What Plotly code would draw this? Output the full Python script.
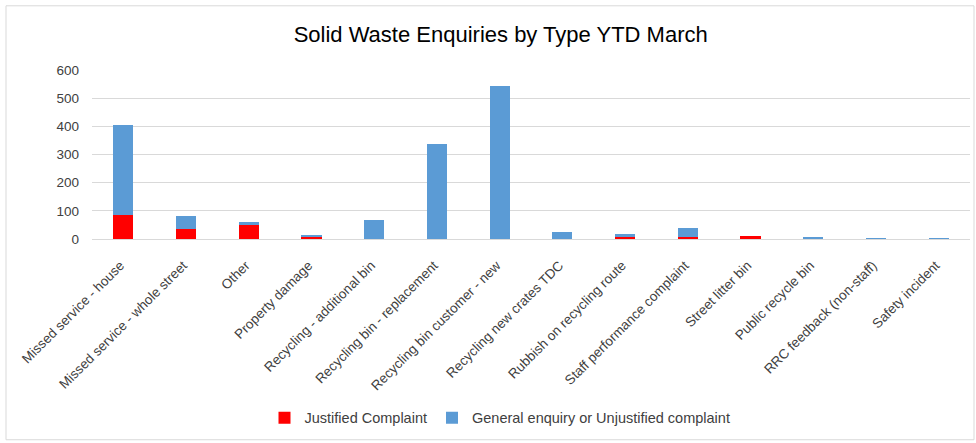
import plotly.graph_objects as go

categories = [
    "Missed service - house",
    "Missed service - whole street",
    "Other",
    "Property damage",
    "Recycling - additional bin",
    "Recycling bin - replacement",
    "Recycling bin customer - new",
    "Recycling new crates TDC",
    "Rubbish on recycling route",
    "Staff performance complaint",
    "Street litter bin",
    "Public recycle bin",
    "RRC feedback (non-staff)",
    "Safety incident",
]
justified = [86, 34, 50, 9, 0, 0, 0, 0, 8, 6, 10, 0, 0, 0]
general = [317, 48, 10, 5, 68, 336, 543, 26, 8, 32, 0, 4, 1, 1]

FONT = "Liberation Sans, Arial, sans-serif"

fig = go.Figure()
fig.add_trace(go.Bar(x=categories, y=justified, name="Justified Complaint",
                     marker=dict(color="#ff0000", line=dict(width=0))))
fig.add_trace(go.Bar(x=categories, y=general, name="General enquiry or Unjustified complaint",
                     marker=dict(color="#5b9bd5", line=dict(width=0))))

L, R, T, B = 92, 6, 69.5, 203.7
W, H = 976, 443
pw = W - L - R
ph = H - T - B

fig.update_layout(
    width=W, height=H,
    barmode="stack",
    bargap=0.68,
    plot_bgcolor="white",
    paper_bgcolor="white",
    margin=dict(l=L, r=R, t=T, b=B, autoexpand=False),
    font=dict(family=FONT, color="#404040", size=13),
    title=dict(text="Solid Waste Enquiries by Type YTD March", x=0.513, xanchor="center",
               y=1 - 34 / H, yanchor="middle",
               font=dict(size=22, color="#000000", family=FONT)),
    showlegend=True,
    legend=dict(orientation="h", x=(500 - L) / pw, xanchor="center", y=(H - B - 419) / ph,
                yanchor="middle", font=dict(size=14.5, color="#404040"),
                traceorder="normal", itemwidth=30),
    xaxis=dict(tickangle=-45, showgrid=False, showline=False, ticks="",
               tickfont=dict(size=13.5, color="#404040"), ticklabelstandoff=15,
               ticklabelshift=-3),
    yaxis=dict(range=[0, 600], dtick=100, showgrid=True, gridcolor="#d9d9d9", gridwidth=1,
               zeroline=True, zerolinecolor="#d9d9d9", zerolinewidth=1, showline=False,
               ticks="", tickfont=dict(size=13.5, color="#404040"), ticklabelstandoff=12),
)

# chart-area border
fig.add_shape(type="rect", xref="paper", yref="paper",
              x0=(6 - L) / pw, x1=(974 - L) / pw,
              y0=(H - B - 441) / ph, y1=(H - B - 5) / ph,
              line=dict(color="#d9d9d9", width=1), fillcolor="rgba(0,0,0,0)", layer="below")

fig.write_html("out.html", config={"displayModeBar": False},
               post_script="document.body.style.margin='0';document.body.style.overflow='hidden';")
